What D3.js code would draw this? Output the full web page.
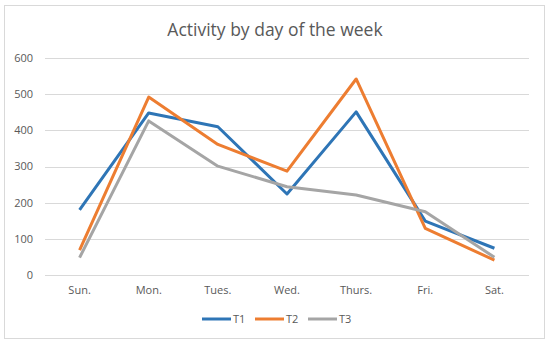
<!DOCTYPE html>
<html>
<head>
<meta charset="utf-8">
<script src="https://cdn.jsdelivr.net/npm/d3@7"></script>
<style>
  body { margin: 0; background: #fff; }
  svg { display: block; }
</style>
</head>
<body>
<svg id="chart" width="550" height="346"></svg>
<script>
// values
const days = ['Sun.', 'Mon.', 'Tues.', 'Wed.', 'Thurs.', 'Fri.', 'Sat.']
const t1 = [180, 448, 410, 224, 451, 149, 74]
const t2 = [69, 492, 361, 287, 542, 129, 41]
const t3 = [48, 426, 301, 244, 221, 175, 49]
const seriesNames = ['T1', 'T2', 'T3']
const seriesColors = ['#2e75b6', '#ed7d31', '#a5a5a5']
const yTicks = [0, 100, 200, 300, 400, 500, 600]

const series = [t1, t2, t3]
const font = "'Open Sans', 'Noto Sans', sans-serif"

const svg = d3.select('#chart')
              .attr('font-family', font)

// chart area border
svg.append('rect')
   .attr('x', 4.5).attr('y', 5.5)
   .attr('width', 540).attr('height', 333)
   .attr('fill', '#fff')
   .attr('stroke', '#d9d9d9')

const x = d3.scaleBand(days, [45, 529])
const y = d3.scaleLinear([0, 600], [275, 58])

// gridlines
svg.append('g')
   .selectAll('line')
   .data(yTicks)
   .join('line')
     .attr('x1', 45).attr('x2', 529)
     .attr('y1', d => Math.round(y(d)) + 0.5)
     .attr('y2', d => Math.round(y(d)) + 0.5)
     .attr('stroke', '#d9d9d9')

// y labels
svg.append('g')
   .selectAll('text')
   .data(yTicks)
   .join('text')
     .attr('x', 33)
     .attr('y', d => y(d))
     .attr('dy', '0.35em')
     .attr('text-anchor', 'end')
     .attr('font-size', 11)
     .attr('fill', '#595959')
     .text(d => d)

// x labels
svg.append('g')
   .selectAll('text')
   .data(days)
   .join('text')
     .attr('x', d => x(d) + x.bandwidth() / 2)
     .attr('y', 294)
     .attr('text-anchor', 'middle')
     .attr('font-size', 11)
     .attr('fill', '#595959')
     .text(d => d)

// lines
const line = d3.line()
               .x((d, i) => x(days[i]) + x.bandwidth() / 2)
               .y(d => y(d))

svg.append('g')
   .selectAll('path')
   .data(series)
   .join('path')
     .attr('d', line)
     .attr('fill', 'none')
     .attr('stroke', (d, i) => seriesColors[i])
     .attr('stroke-width', 3)
     .attr('stroke-linejoin', 'round')

// legend
const legendX = [202, 255, 308]
const legend = svg.append('g')
                  .selectAll('g')
                  .data(seriesNames)
                  .join('g')
                    .attr('transform', (d, i) => `translate(${legendX[i]}, 319)`)
legend.append('line')
      .attr('x1', 0).attr('x2', 29)
      .attr('stroke', (d, i) => seriesColors[i])
      .attr('stroke-width', 3)
legend.append('text')
      .attr('x', 31)
      .attr('dy', '0.35em')
      .attr('font-size', 11)
      .attr('fill', '#595959')
      .text(d => d)

// title
svg.append('text')
   .attr('x', 275)
   .attr('y', 36)
   .attr('text-anchor', 'middle')
   .attr('font-size', 17.5)
   .attr('fill', '#595959')
   .text('Activity by day of the week')
</script>
</body>
</html>
